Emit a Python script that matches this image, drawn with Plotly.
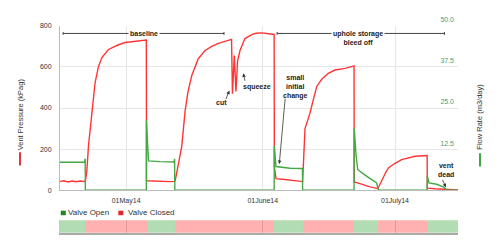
import pandas as pd
import plotly.graph_objects as go

# ---- vent pressure (kPag) ----
pressure_time = [
    "2014-04-16 00:00", "2014-04-16 22:00", "2014-04-17 20:00", "2014-04-18 18:00",
    "2014-04-19 16:00", "2014-04-20 14:00", "2014-04-21 14:00", "2014-04-21 18:00",
    "2014-04-22 02:00", "2014-04-22 11:00", "2014-04-23 05:00", "2014-04-23 23:00",
    "2014-04-24 17:00", "2014-04-25 12:00", "2014-04-27 00:00", "2014-04-29 06:00",
    "2014-04-30 18:00", "2014-05-03 01:00", "2014-05-05 07:00", "2014-05-05 14:00",
    "2014-05-05 15:00", "2014-05-06 11:00", "2014-05-08 17:00", "2014-05-10 23:00",
    "2014-05-12 00:00", "2014-05-12 03:00", "2014-05-12 19:00", "2014-05-13 15:00",
    "2014-05-14 09:00", "2014-05-15 01:00", "2014-05-15 22:00", "2014-05-17 09:00",
    "2014-05-18 22:00", "2014-05-20 10:00", "2014-05-21 22:00", "2014-05-23 11:00",
    "2014-05-24 22:00", "2014-05-25 03:00", "2014-05-25 13:00", "2014-05-25 22:00",
    "2014-05-26 07:00", "2014-05-26 20:00", "2014-05-27 23:00", "2014-05-29 12:00",
    "2014-05-30 12:00", "2014-05-31 18:00", "2014-06-02 06:00", "2014-06-03 14:00",
    "2014-06-03 15:00", "2014-06-04 00:00", "2014-06-06 01:00", "2014-06-08 08:00",
    "2014-06-09 23:00", "2014-06-10 01:00", "2014-06-10 14:00", "2014-06-11 17:00",
    "2014-06-12 11:00", "2014-06-13 06:00", "2014-06-14 09:00", "2014-06-15 21:00",
    "2014-06-17 09:00", "2014-06-19 16:00", "2014-06-21 17:00", "2014-06-21 18:00",
    "2014-06-23 01:00", "2014-06-24 05:00", "2014-06-25 08:00", "2014-06-27 03:00",
    "2014-06-28 00:00", "2014-06-28 18:00", "2014-06-29 12:00", "2014-07-01 00:00",
    "2014-07-02 12:00", "2014-07-04 00:00", "2014-07-05 13:00", "2014-07-08 07:00",
    "2014-07-08 08:00", "2014-07-10 02:00", "2014-07-12 08:00", "2014-07-15 07:00",
]
pressure_kpag = [
    43, 46, 40, 45, 41, 45, 42, 44,
    92, 215, 369, 523, 600, 646, 685, 708,
    719, 726, 731, 731,
    46, 45, 43, 42,
    43, 46, 120, 215, 385, 480, 560, 640,
    680, 700, 715, 723, 734, 470, 655, 480,
    630, 680, 738, 757, 764, 766, 762, 758,
    115, 56, 52, 47, 40, 42, 300, 375,
    440, 505, 540, 569, 585, 593, 605,
    40, 32, 24, 16, 8,
    50, 80, 108, 131, 149, 158, 165, 169,
    10, 7, 3, 1,
]

# ---- flow rate (m3/day) ----
flow_time = [
    "2014-04-16 00:00", "2014-04-21 14:00", "2014-04-21 17:00", "2014-04-21 18:00",
    "2014-05-05 14:00", "2014-05-05 15:00", "2014-05-05 20:00", "2014-05-06 02:00",
    "2014-05-08 17:00", "2014-05-11 21:00", "2014-05-12 00:00", "2014-05-12 01:00",
    "2014-06-03 14:00", "2014-06-03 15:00", "2014-06-04 00:00", "2014-06-07 05:00",
    "2014-06-10 00:00", "2014-06-10 01:00",
    "2014-06-21 17:00", "2014-06-21 18:00", "2014-06-22 04:00", "2014-06-22 13:00",
    "2014-06-24 05:00", "2014-06-25 17:00", "2014-06-26 20:00", "2014-06-27 03:00",
    "2014-06-27 06:00",
    "2014-07-08 07:00", "2014-07-08 08:00", "2014-07-08 17:00", "2014-07-10 11:00",
    "2014-07-11 23:00", "2014-07-12 17:00", "2014-07-15 07:00",
]
flow_rate = [
    8.5, 8.6, 9.6, 0,
    0, 21.3, 15.0, 8.9,
    8.7, 8.6, 9.5, 0,
    0, 13.5, 7.2, 6.7,
    6.6, 0,
    0, 18.75, 10.6, 6.3,
    4.6, 3.3, 2.2, 0.6,
    0,
    0, 4.3, 2.2, 1.8,
    1.0, 0.1, 0,
]

# ---- valve state periods ----
valve_start = [
    "2014-04-16 00:00", "2014-04-21 18:00", "2014-05-05 15:00", "2014-05-12 01:00",
    "2014-06-03 15:00", "2014-06-10 01:00", "2014-06-21 18:00", "2014-06-27 06:00",
    "2014-07-08 08:00",
]
valve_end = [
    "2014-04-21 18:00", "2014-05-05 15:00", "2014-05-12 01:00", "2014-06-03 15:00",
    "2014-06-10 01:00", "2014-06-21 18:00", "2014-06-27 06:00", "2014-07-08 08:00",
    "2014-07-15 07:00",
]
valve_state = ["Open", "Closed", "Open", "Closed", "Open",
               "Closed", "Open", "Closed", "Open"]

month_ticks = ["2014-05-01", "2014-06-01", "2014-07-01"]
month_labels = ["01May14", "01June14", "01July14"]
x_range = ["2014-04-16 00:00", "2014-07-15 07:00"]

FONT = "Liberation Sans, Arial, sans-serif"
RED = "#ff3535"
GREEN = "#45a845"
TEAL = "#3ea07c"
TXT = "#333333"
GRID = "#e6e6e6"

fig = go.Figure()

fig.add_trace(go.Scatter(
    x=pressure_time, y=pressure_kpag, mode="lines", name="Vent Pressure",
    line=dict(color=RED, width=1.4), xaxis="x", yaxis="y", showlegend=False,
))
fig.add_trace(go.Scatter(
    x=flow_time, y=flow_rate, mode="lines", name="Flow Rate",
    line=dict(color=GREEN, width=1.4), xaxis="x", yaxis="y2", showlegend=False,
))

# valve state band
starts = pd.to_datetime(valve_start)
ends = pd.to_datetime(valve_end)
durations_ms = [(e - s).total_seconds() * 1000 for s, e in zip(starts, ends)]
state_color = {"Open": "rgba(0,140,0,0.30)", "Closed": "rgba(255,0,0,0.31)"}
fig.add_trace(go.Bar(
    orientation="h", base=valve_start, x=durations_ms, y=[0] * len(valve_start),
    width=1, marker=dict(color=[state_color[s] for s in valve_state], line=dict(width=0)),
    xaxis="x2", yaxis="y3", showlegend=False, hoverinfo="skip",
))

tickfont = dict(family=FONT, size=7, color=TXT)

fig.update_layout(
    width=500, height=252,
    margin=dict(l=60, r=42, t=0, b=0),
    paper_bgcolor="white", plot_bgcolor="white",
    font=dict(family=FONT, size=7, color=TXT),
    bargap=0,
    xaxis=dict(
        type="date", range=x_range, domain=[0, 1], anchor="y",
        tickvals=month_ticks, ticktext=month_labels, tickfont=tickfont,
        showgrid=True, gridcolor=GRID, gridwidth=1,
        showline=True, linecolor="#bbbbbb", linewidth=1,
        ticks="", ticklabelstandoff=3, zeroline=False,
    ),
    yaxis=dict(
        range=[0, 800], domain=[0.2460, 0.9337], anchor="x",
        tickvals=[0, 200, 400, 600, 800], tickfont=tickfont,
        showgrid=True, gridcolor=GRID, gridwidth=1,
        showline=True, linecolor="#bbbbbb", linewidth=1,
        ticks="", ticklabelstandoff=6, zeroline=False,
    ),
    yaxis2=dict(
        range=[0, 50], overlaying="y", side="right", anchor="x",
        tickvals=[12.5, 25, 37.5, 50], ticktext=["12.5", "25.0", "37.5", "50.0"],
        tickfont=dict(family=FONT, size=7, color=TEAL),
        ticklabelposition="inside", ticklabelshift=-6, ticklabelstandoff=1,
        ticklabeloverflow="allow",
        showgrid=False, showline=False, zeroline=False, ticks="",
    ),
    xaxis2=dict(
        type="date", range=x_range, domain=[0, 1], anchor="y3",
        tickvals=month_ticks, showticklabels=False,
        showgrid=True, gridcolor="#d8d8d8", gridwidth=1,
        showline=True, linecolor="#aaaaaa", linewidth=2,
        ticks="", zeroline=False,
    ),
    yaxis3=dict(
        range=[-0.5, 0.5], domain=[0.0675, 0.1202], anchor="x2",
        showticklabels=False, showgrid=False, zeroline=False,
        showline=True, linecolor="#c8c8c8", linewidth=1, ticks="",
        fixedrange=True,
    ),
)

# axis titles with series swatches
fig.add_annotation(text="Vent Pressure (kPag)", xref="paper", yref="paper",
                   x=-0.1005, y=0.5635, textangle=-90, showarrow=False,
                   xanchor="center", yanchor="middle",
                   font=dict(family=FONT, size=7.5, color=TXT))
fig.add_shape(type="line", xref="paper", yref="paper", x0=-0.1005, x1=-0.1005,
              y0=0.4048, y1=0.3492, line=dict(color="#e0202a", width=1.8))
fig.add_annotation(text="Flow Rate (m3/day)", xref="paper", yref="paper",
                   x=1.0553, y=0.5536, textangle=-90, showarrow=False,
                   xanchor="center", yanchor="middle",
                   font=dict(family=FONT, size=7.5, color=TXT))
fig.add_shape(type="line", xref="paper", yref="paper", x0=1.0553, x1=1.0553,
              y0=0.4008, y1=0.3452, line=dict(color="#2f9a2f", width=1.8))

# valve legend
legend_items = [("Valve Open", "#1f8a1f", 0.0020, 0.0151),
                ("Valve Closed", "#e0262b", 0.1466, 0.1658)]
for label, colour, sq_x, txt_x in legend_items:
    fig.add_shape(type="rect", xref="paper", yref="paper",
                  x0=sq_x, x1=sq_x + 0.0126, y0=0.1413, y1=0.1603,
                  fillcolor=colour, line=dict(width=0))
    fig.add_annotation(text=label, xref="paper", yref="paper", x=txt_x, y=0.1508,
                       xanchor="left", yanchor="middle", showarrow=False,
                       font=dict(family=FONT, size=8, color=TXT))

# period brackets along the top
brackets = [
    ("baseline", "2014-04-16 17:00", "2014-05-23 05:00", "2014-05-05 00:00"),
    ("uphole storage<br>bleed off", "2014-06-04 06:00", "2014-07-12 05:00", "2014-06-22 17:00"),
]
bracket_y = 763
for label, b0, b1, mid in brackets:
    fig.add_shape(type="line", xref="x", yref="y", x0=b0, x1=b1,
                  y0=bracket_y, y1=bracket_y, line=dict(color="#444444", width=1))
    for end in (b0, b1):
        fig.add_shape(type="line", xref="x", yref="y", x0=end, x1=end,
                      y0=bracket_y - 7, y1=bracket_y + 7,
                      line=dict(color="#444444", width=1))
    fig.add_annotation(text="<b>%s</b>" % label, xref="x", yref="y", x=mid,
                       y=bracket_y, yanchor="top" if "<br>" in label else "middle",
                       yshift=5 if "<br>" in label else 0,
                       showarrow=False, bgcolor="white", borderpad=1,
                       font=dict(family=FONT, size=7, color="#222222"))

# event notes
notes = [
    ("cut", "2014-05-22 13:00", 425),
    ("squeeze", "2014-05-30 17:00", 503),
    ("small<br>initial<br>change", "2014-06-08 08:00", 502),
    ("vent<br>dead", "2014-07-12 13:00", 99),
]
for label, nx, ny in notes:
    fig.add_annotation(text="<b>%s</b>" % label, xref="x", yref="y", x=nx, y=ny,
                       showarrow=False, font=dict(family=FONT, size=7, color="#222222"))

# arrows: head position plus tail offset in pixels
arrows = [
    ("2014-05-24 10:00", 485, -4, 10),
    ("2014-05-27 14:00", 569, 2, 9),
    ("2014-06-04 18:00", 127, 6, -67),
    ("2014-07-12 13:00", 14, -4, -9),
]
for ax_x, ax_y, dx, dy in arrows:
    fig.add_annotation(text="", xref="x", yref="y", x=ax_x, y=ax_y, ax=dx, ay=dy,
                       showarrow=True, arrowhead=2, arrowsize=0.9, arrowwidth=0.8,
                       arrowcolor="#333333", standoff=0, startstandoff=0)

fig.write_html("out.html")
